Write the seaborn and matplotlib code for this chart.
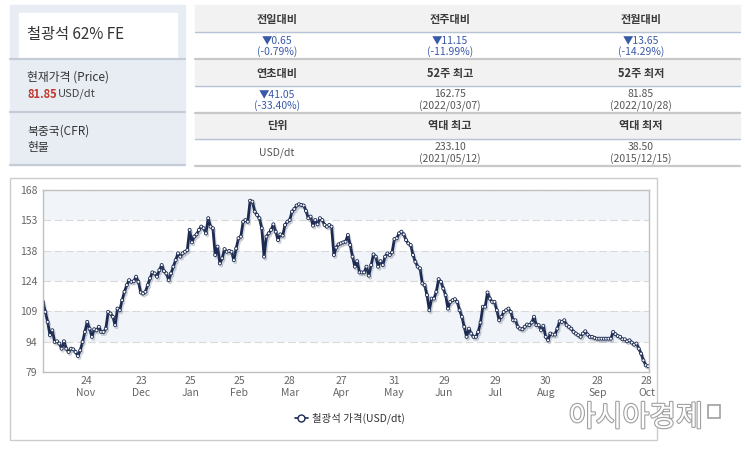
import numpy as np
import pandas as pd
import matplotlib
matplotlib.use("Agg")
import matplotlib.pyplot as plt
import matplotlib.patheffects as pe
from matplotlib.patches import Rectangle
from matplotlib.lines import Line2D
import seaborn as sns

# 철광석 62% FE 가격 (USD/dt), 2021.10 ~ 2022.10 일별
price = [
    113.3, 108.4, 103.5, 97.0, 99.4, 93.7, 94.0, 92.9, 90.4, 94.0, 90.4, 88.8, 90.4, 90.1, 88.8, 86.8,
    89.6, 93.7, 98.6, 103.5, 100.2, 96.2, 99.9, 99.4, 101.1, 98.6, 98.6, 100.2, 108.4, 107.6, 106.0,
    101.9, 110.0, 109.2, 114.1, 118.2, 121.5, 123.9, 123.1, 123.4, 125.6, 123.1, 117.9, 117.4, 118.2,
    121.5, 124.8, 127.7, 127.2, 125.6, 128.8, 131.3,
    128.3, 127.2, 123.9, 127.2, 130.5, 133.7, 137.0, 135.4, 137.0, 137.8, 138.6, 148.5, 142.4, 145.2,
    146.3, 148.5, 150.1, 149.3, 146.8, 154.2, 150.1, 149.3, 136.2, 140.3, 132.1, 134.6, 139.1, 137.8,
    138.2, 137.8, 133.7, 139.4, 144.4, 145.2, 152.5, 153.3, 152.5, 162.75, 162.3, 157.4, 155.8, 154.2,
    149.3, 135.4, 145.2, 146.8, 148.5, 151.2, 147.6, 143.5, 146.3, 145.7, 150.9,
    152.5, 153.3, 157.4, 158.7, 160.4, 161.0, 160.7, 160.4, 157.8, 154.2, 155.0, 150.6, 153.3, 151.2,
    154.2, 153.3, 150.9, 150.1, 150.9, 150.1, 136.2, 139.8, 141.4, 141.9, 142.4, 142.7, 146.0, 141.1,
    135.4, 130.5, 133.2, 127.7, 127.7, 127.7, 130.5, 126.1, 131.3, 136.5, 135.4, 130.5, 133.2, 131.3,
    135.4, 137.0, 136.2, 137.5, 144.0, 144.4, 146.8, 147.6, 146.3, 143.5,
    141.9, 141.1, 136.2, 132.9, 130.5, 129.7, 122.3, 121.5, 116.6, 109.2, 114.9, 114.9, 118.2, 124.4,
    123.1, 119.8, 116.6, 110.0, 113.3, 114.1, 114.6, 113.3, 109.2, 106.0, 101.1, 96.2, 100.2, 97.8,
    96.2, 96.2, 98.6, 103.2, 110.9, 110.9, 117.9, 114.9, 113.3, 113.3, 109.2, 104.3, 106.0, 108.4,
    109.2, 110.0, 108.4, 104.3, 104.3, 101.1, 100.2, 99.9, 101.1,
    102.2, 101.9, 103.2, 106.0, 101.9, 101.9, 99.4, 101.6, 96.2, 94.5, 97.8, 97.3, 97.3, 100.2, 103.8,
    103.5, 104.3, 101.9, 101.1, 100.2, 98.6, 97.8, 97.0, 96.2, 97.8, 98.9, 97.3, 96.2, 96.2, 95.7,
    95.3, 95.3, 95.3, 95.3, 95.3, 95.3, 95.3, 98.6, 97.5, 96.6, 96.2, 95.0, 95.0, 94.0, 94.5, 93.4,
    92.4, 92.9, 90.4, 88.0, 84.7, 82.3, 81.85,
]

x_labels = ["24\nNov", "23\nDec", "25\nJan", "25\nFeb", "28\nMar", "27\nApr",
            "31\nMay", "29\nJun", "29\nJul", "30\nAug", "28\nSep", "28\nOct"]
y_labels = ["79", "94", "109", "124", "138", "153", "168"]
legend_label = "철광석 가격(USD/dt)"

# 상단 표
title_text = "철광석 62% FE"
price_text = "81.85"
headers = [["전일대비", "전주대비", "전월대비"],
           ["연초대비", "52주 최고", "52주 최저"],
           ["단위", "역대 최고", "역대 최저"]]
values = [[("▼0.65", "(-0.79%)"), ("▼11.15", "(-11.99%)"), ("▼13.65", "(-14.29%)")],
          [("▼41.05", "(-33.40%)"), ("162.75", "(2022/03/07)"), ("81.85", "(2022/10/28)")],
          [("USD/dt", ""), ("233.10", "(2021/05/12)"), ("38.50", "(2015/12/15)")]]

sns.set_style("white")
plt.rcParams["font.family"] = ["Noto Sans CJK KR", "DejaVu Sans"]

W, H = 745, 455
fig = plt.figure(figsize=(W / 100, H / 100), dpi=100)
fig.patch.set_facecolor("white")

# 배경용 축 (픽셀 좌표)
bg = fig.add_axes([0, 0, 1, 1])
bg.set_xlim(0, W)
bg.set_ylim(H, 0)
bg.axis("off")

# 왼쪽 패널
bg.add_patch(Rectangle((10, 5), 175, 160, color="#e8edf4", zorder=1))
bg.add_patch(Rectangle((19, 13), 158, 45, color="white", zorder=2))
for yy in [59, 112, 165]:
    bg.plot([10, 185], [yy, yy], color="#c5ccd8", lw=1.6, zorder=3)
bg.text(27, 34, title_text, fontsize=11, color="#333333", va="center", zorder=4)
bg.text(27, 77, "현재가격 (Price)", fontsize=8.5, color="#333333", va="center", zorder=4)
bg.text(27, 94, price_text, fontsize=8, color="#c0392b", fontweight="bold", va="center", zorder=4)
bg.text(58, 94, "USD/dt", fontsize=8, color="#444444", va="center", zorder=4)
bg.text(27, 131, "북중국(CFR)", fontsize=8.5, color="#333333", va="center", zorder=4)
bg.text(27, 148, "현물", fontsize=8.5, color="#333333", va="center", zorder=4)

# 오른쪽 표
col_x = [277, 450, 641]
row_top = [5, 59, 112]
for r in range(3):
    top = row_top[r]
    bg.add_patch(Rectangle((195, top), 545, 27, color="#f2f2f2", zorder=1))
    bg.plot([195, 740], [top + 27, top + 27], color="#b7c4d8", lw=1, zorder=3)
    bg.plot([195, 740], [top + 54, top + 54], color="#c8c8c8", lw=1.6, zorder=3)
    for c in range(3):
        bg.text(col_x[c], top + 14, headers[r][c], fontsize=8, color="#3a3a3a",
                fontweight="bold", ha="center", va="center", zorder=4)
        v1, v2 = values[r][c]
        col = "#3a5aa8" if v1.startswith("▼") else "#555555"
        if v2 == "":
            bg.text(col_x[c], top + 41, v1, fontsize=7.5, color=col, ha="center", va="center", zorder=4)
        else:
            bg.text(col_x[c], top + 35, v1, fontsize=7.5, color=col, ha="center", va="center", zorder=4)
            bg.text(col_x[c], top + 47, v2, fontsize=7.5, color=col, ha="center", va="center", zorder=4)

# 차트 테두리
bg.add_patch(Rectangle((10, 178), 647, 262, facecolor="white", edgecolor="#cccccc", lw=1, zorder=1))

# 워터마크
bg.text(636, 418, "아시아경제", fontsize=21, color="white",
        ha="center", va="center", zorder=5,
        path_effects=[pe.withStroke(linewidth=1.6, foreground="#a0a0a0")])
bg.add_patch(Rectangle((708, 405), 12, 13, facecolor="white", edgecolor="#a0a0a0", lw=1.2, zorder=5))

# 가격 차트
navy = "#1c2a52"
ax = fig.add_axes([43 / W, 1 - 372 / H, (649 - 43) / W, (372 - 190) / H])
df = pd.DataFrame({"idx": np.arange(len(price)), "price": price})
n = len(price)

y_ticks = np.linspace(79, 168, 7)
for i in [1, 3, 5]:
    ax.axhspan(y_ticks[i], y_ticks[i + 1], color="#f1f5f9", zorder=0, lw=0)

sns.lineplot(data=df, x="idx", y="price", ax=ax, color=navy, linewidth=2.0,
             marker="o", markersize=2.2, markerfacecolor="white",
             markeredgecolor=navy, markeredgewidth=0.6, legend=False,
             path_effects=[pe.SimpleLineShadow(offset=(1, -1.5), shadow_color="#7f8896", alpha=0.3),
                           pe.Normal()])

tick_frac = [0.071, 0.162, 0.244, 0.324, 0.408, 0.493, 0.580, 0.663, 0.747, 0.831, 0.917, 0.998]
ax.set_xlim(0, n - 1 + 0.4)
ax.set_ylim(79, 168)
ax.set_xticks([f * (n - 1) for f in tick_frac])
ax.set_xticklabels(x_labels)
ax.set_yticks(y_ticks)
ax.set_yticklabels(y_labels)
ax.set_xlabel("")
ax.set_ylabel("")
ax.yaxis.grid(True, linestyle=(0, (7, 3)), color="#d9d9d9", lw=0.8)
ax.xaxis.grid(False)
ax.set_axisbelow(True)
ax.tick_params(axis="both", length=0, labelsize=7.5, labelcolor="#666666")
ax.tick_params(axis="y", pad=4)
ax.tick_params(axis="x", pad=3)
for s in ax.spines.values():
    s.set_color("#c0c0c0")
    s.set_linewidth(1)

handle = Line2D([], [], color=navy, lw=1.2, marker="o", markersize=5,
                markerfacecolor="white", markeredgecolor=navy, markeredgewidth=1)
fig.legend(handles=[handle], labels=[legend_label], loc="center",
           bbox_to_anchor=(350 / W, 1 - 418 / H), frameon=False, fontsize=7.5,
           handlelength=1.2, handletextpad=0.4, labelcolor="#333333")

fig.savefig("out.png", dpi=100)
